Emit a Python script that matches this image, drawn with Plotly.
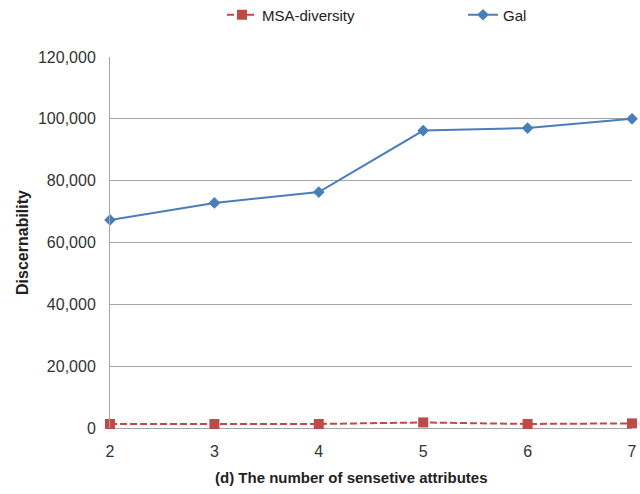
import plotly.graph_objects as go

x_vals = [2, 3, 4, 5, 6, 7]
msa_diversity = [1300, 1300, 1300, 1800, 1300, 1500]
gal = [67300, 72800, 76300, 96200, 97000, 100000]
y_ticks = [0, 20000, 40000, 60000, 80000, 100000, 120000]

W, H = 640, 494
L, R, T, B = 110, 8, 57, 66
PW, PH = W - L - R, H - T - B

fig = go.Figure()
fig.add_trace(go.Scatter(
    x=x_vals, y=msa_diversity, name="MSA-diversity", mode="lines+markers",
    line=dict(color="#be4b48", width=2, dash="7px,3px"),
    marker=dict(symbol="square", size=10, color="#be4b48"),
    cliponaxis=False,
))
fig.add_trace(go.Scatter(
    x=x_vals, y=gal, name="Gal", mode="lines+markers",
    line=dict(color="#4a7ebb", width=2),
    marker=dict(symbol="diamond", size=9, color="#4a7ebb"),
    cliponaxis=False,
))

fig.update_layout(
    width=W, height=H,
    margin=dict(l=L, r=R, t=T, b=B, autoexpand=False),
    paper_bgcolor="white", plot_bgcolor="white",
    font=dict(family="Liberation Sans, Arial, sans-serif", size=16, color="#333333"),
    legend=dict(
        orientation="h", x=222 / W, xref="container", xanchor="left",
        y=1 - 15 / H, yref="container", yanchor="middle",
        font=dict(size=15, color="#222222"),
        entrywidth=196, entrywidthmode="pixels",
        itemwidth=30,
    ),
    xaxis=dict(
        range=[2, 7], tickvals=x_vals, ticktext=[str(v) for v in x_vals],
        showgrid=False, zeroline=False, showline=False,
        ticks="", ticklen=0, automargin=False, ticklabelstandoff=12,
    ),
    yaxis=dict(
        range=[0, 120000], tickvals=y_ticks, tickformat=",",
        showgrid=True, gridcolor="#a6a6a6", gridwidth=1,
        zeroline=True, zerolinecolor="#a6a6a6", zerolinewidth=1,
        showline=True, linecolor="#a6a6a6", linewidth=1,
        ticks="", ticklen=0, automargin=False, ticklabelstandoff=10,
        title=dict(text="<b>Discernability</b>",
                   font=dict(size=16, color="#222222"), standoff=5),
    ),
    annotations=[dict(
        text="<b>(d) The number of sensetive attributes</b>",
        xref="paper", yref="paper",
        x=(351 - L) / PW, y=-(478 - (H - B)) / PH,
        xanchor="center", yanchor="middle", showarrow=False,
        font=dict(size=15, color="#222222"),
    )],
)

fig.write_html("out.html", config={"displayModeBar": False},
               post_script="document.body.style.margin='0';")
